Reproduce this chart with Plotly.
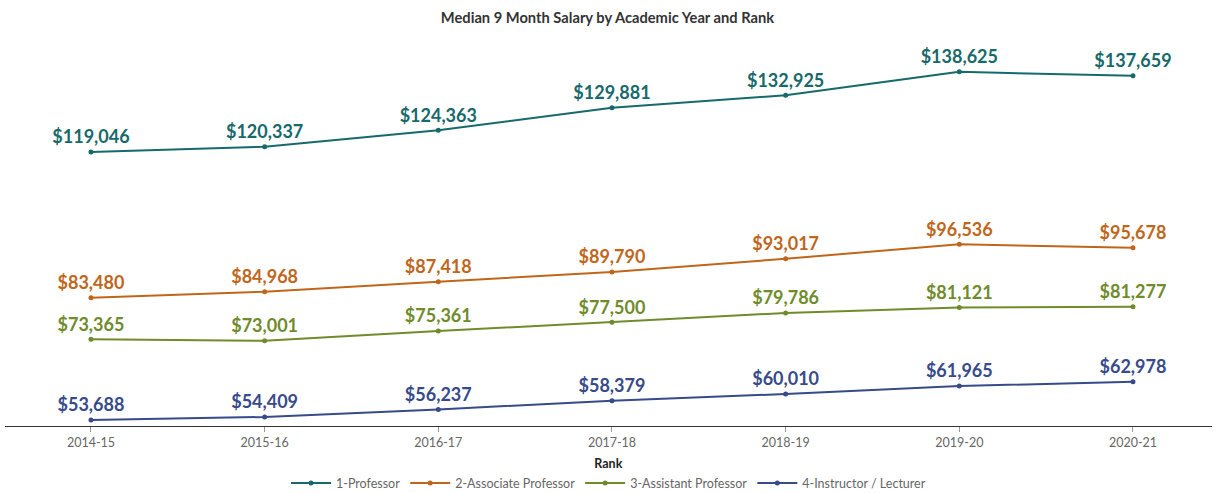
import plotly.graph_objects as go

years = ["2014-15", "2015-16", "2016-17", "2017-18", "2018-19", "2019-20", "2020-21"]
professor = [119046, 120337, 124363, 129881, 132925, 138625, 137659]
associate = [83480, 84968, 87418, 89790, 93017, 96536, 95678]
assistant = [73365, 73001, 75361, 77500, 79786, 81121, 81277]
instructor = [53688, 54409, 56237, 58379, 60010, 61965, 62978]

series = [
    ("1-Professor", professor, "#17696b"),
    ("2-Associate Professor", associate, "#c0661b"),
    ("3-Assistant Professor", assistant, "#6f8b2b"),
    ("4-Instructor / Lecturer", instructor, "#374a8a"),
]

fig = go.Figure()
for name, vals, color in series:
    fig.add_trace(go.Scatter(
        x=years, y=vals, name=name, mode="lines+markers+text",
        line=dict(color=color, width=2),
        marker=dict(color=color, size=5),
        text=[f"${v:,}" for v in vals],
        textposition="top center",
        textfont=dict(family="Lato", size=18, color=color, weight="bold"),
        cliponaxis=False,
    ))

fig.update_layout(
    width=1215, height=493,
    margin=dict(l=5, r=3, t=40, b=67, autoexpand=False),
    paper_bgcolor="white", plot_bgcolor="white",
    title=dict(text="<b>Median 9 Month Salary by Academic Year and Rank</b>",
               x=0.5, xanchor="center", y=0.975, yanchor="top",
               font=dict(family="Lato", size=14.7, color="#333333")),
    xaxis=dict(type="category", range=[-0.495, 6.455], showgrid=False,
               showline=True, linecolor="#333333", linewidth=1,
               ticks="outside", ticklen=5, tickcolor="#999999",
               tickfont=dict(family="Lato", size=12.5, color="#666666")),
    yaxis=dict(range=[52200, 146400], visible=False, showgrid=False, zeroline=False),
    showlegend=True,
    legend=dict(orientation="h", x=0.5, xanchor="center",
                yref="container", y=0.083, yanchor="top",
                title=dict(text="<b>Rank</b>", side="top center",
                           font=dict(family="Lato", size=12.5, color="#222222")),
                font=dict(family="Lato", size=12.5, color="#666666"),
                itemwidth=40, tracegroupgap=0),
)

fig.write_html("out.html", config={"displayModeBar": False},
               post_script="document.body.style.margin='0px';document.body.style.overflow='hidden';")
